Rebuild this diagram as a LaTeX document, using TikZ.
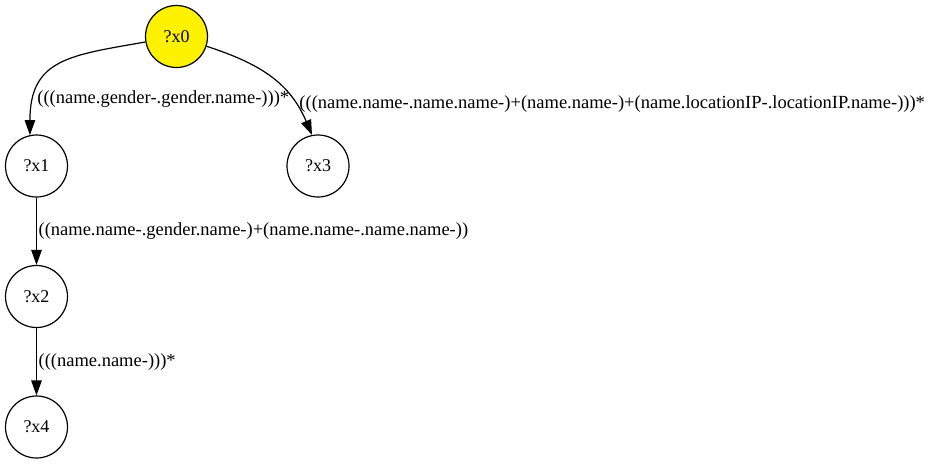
\documentclass[tikz,border=0pt]{standalone}
\usepackage{fontspec}
\setmainfont{Liberation Serif}
\usetikzlibrary{positioning,arrows.meta}

\begin{document}
\begin{tikzpicture}[->,>={Triangle[length=15pt,width=10.5pt]},x=1pt,y=1pt,
  node distance=130.5pt,line width=1.2pt,
  main node/.style={circle,draw,minimum size=62pt,inner sep=0pt,font=\fontsize{18}{20}\selectfont},
  edge label/.style={font=\fontsize{18.5}{20}\selectfont,anchor=west,inner sep=1.5pt}]
  \useasboundingbox (0,0) rectangle (933,-464);

  \node[main node,fill=yellow] (x0) at (176.5,-36.5) {?x0};
  \node[main node] (x1) at (36.5,-166) {?x1};
  \node[main node] (x3) at (318,-166) {?x3};
  \node[main node] (x2) [below of=x1] {?x2};
  \node[main node] (x4) [below of=x2] {?x4};

  \path
    (x0) edge [out=190,in=90,looseness=1.32] node[edge label,pos=0.81,xshift=1pt] {(((name.gender-.gender.name-)))*} (x1.102)
    (x0) edge [out=-18,in=113,looseness=1.05] node[edge label,pos=0.77,xshift=2pt] {(((name.name-.name.name-)+(name.name-)+(name.locationIP-.locationIP.name-)))*} (x3.101)
    (x1) edge node[edge label] {((name.name-.gender.name-)+(name.name-.name.name-))} (x2)
    (x2) edge node[edge label] {(((name.name-)))*} (x4);
\end{tikzpicture}
\end{document}
